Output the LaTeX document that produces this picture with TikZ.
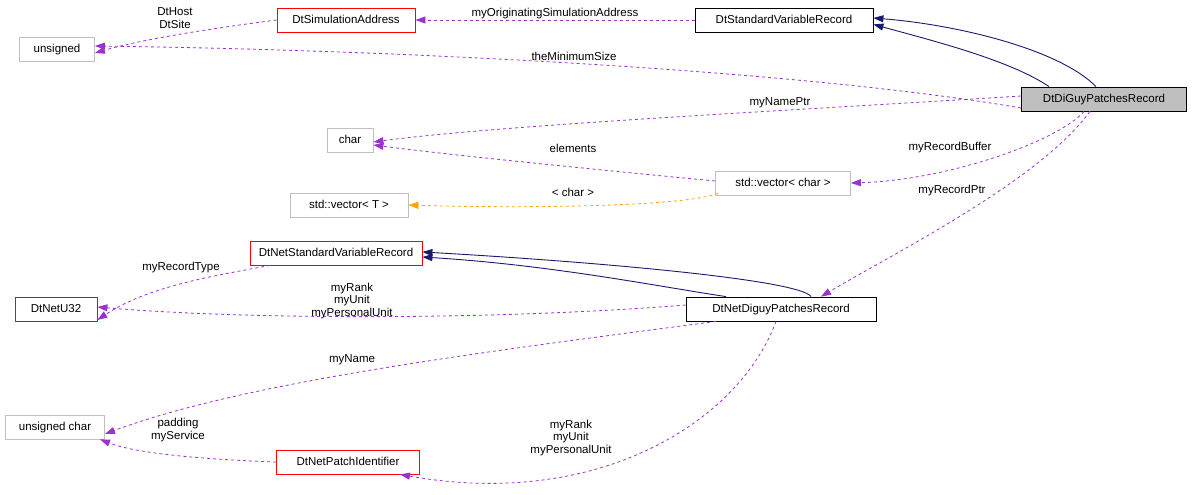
\documentclass[tikz,border=0pt]{standalone}
\usepackage{fontspec}
\setmainfont{Liberation Sans}
\usetikzlibrary{arrows.meta}
\definecolor{navy}{HTML}{191970}
\definecolor{purp}{HTML}{9A32CD}
\definecolor{orng}{HTML}{FFA500}
\definecolor{gb}{HTML}{BFBFBF}
\begin{document}
\begin{tikzpicture}[x=1pt,y=-1pt,
  every node/.style={font=\fontsize{11.5}{13}\selectfont},
  box/.style={draw,rectangle,minimum height=24pt,inner sep=2pt,line width=0.8pt,text depth=2pt},
  gbox/.style={box,draw=gb},
  rbox/.style={box,draw=red},
  kbox/.style={box,draw=black},
  inh/.style={draw=navy,line width=0.9pt,-{Triangle[length=10pt,width=7pt]}},
  use/.style={draw=purp,dashed,line width=0.8pt,-{Triangle[length=10pt,width=7pt]}},
  tpl/.style={draw=orng,dashed,line width=0.8pt,-{Triangle[length=10pt,width=7pt]}},
  lab/.style={align=center,inner sep=0pt,font=\fontsize{11.5}{12.5}\selectfont}]
\useasboundingbox (0,0) rectangle (1192,495);
\node[kbox,fill=gb,minimum width=165pt] (dgr) at (1104,99) {DtDiGuyPatchesRecord};
\node[kbox,minimum width=178pt] (svr) at (784,20) {DtStandardVariableRecord};
\node[rbox,minimum width=138pt] (sa) at (346,20) {DtSimulationAddress};
\node[gbox,minimum width=75pt] (uns) at (57,49) {unsigned};
\node[gbox,minimum width=46pt] (ch) at (350,140) {char};
\node[gbox,minimum width=135pt] (vc) at (783,183) {std::vector< char >};
\node[gbox,minimum width=118pt] (vt) at (349,205) {std::vector< T >};
\node[rbox,minimum width=172pt] (nsvr) at (336,253) {DtNetStandardVariableRecord};
\node[rbox,minimum width=82pt] (u32) at (56,309) {DtNetU32};
\node[kbox,minimum width=190pt] (ndr) at (781,309) {DtNetDiguyPatchesRecord};
\node[gbox,minimum width=99pt] (uc) at (55,427) {unsigned char};
\node[rbox,minimum width=143pt] (npi) at (348,462) {DtNetPatchIdentifier};

\path[inh] (dgr.north) ++(-8,0) .. controls (1060,50) and (960,25) .. ([yshift=2pt]svr.east);
\path[inh] (dgr.north) ++(-55,0) .. controls (1010,60) and (930,40) .. ([yshift=8pt]svr.south east);
\path[use] (svr.west) -- node[lab,above=1pt]{myOriginatingSimulationAddress} (sa.east);
\path[use] (sa.west) .. controls (200,30) and (140,40) .. ([yshift=-4pt]uns.east);
\node[lab] (l1) at (175,18) {DtHost\\DtSite};
\path[use] ([yshift=-9pt]dgr.west) .. controls (800,70) and (400,50) .. ([yshift=3pt]uns.east);
\node[lab] (l2) at (574,56) {theMinimumSize};
\path[use] ([yshift=3pt]dgr.west) .. controls (800,110) and (500,125) .. ([yshift=-2pt]ch.east);
\node[lab] (l3) at (780,103) {myNamePtr};
\path[use] ([yshift=2pt]vc.west) .. controls (600,170) and (450,155) .. ([yshift=-5pt]ch.east);
\node[lab] (l4) at (573,148) {elements};
\path[use] ([xshift=-20pt]dgr.south) .. controls (1060,140) and (950,180) .. (vc.east);
\node[lab] (l5) at (950,148) {myRecordBuffer};
\path[tpl] ([xshift=-65pt]vc.south) ++(0,-2) .. controls (680,208) and (500,208) .. (vt.east);
\node[lab] (l6) at (573,192) {< char >};
\path[use] ([xshift=-14pt]dgr.south) .. controls (1040,180) and (900,250) .. ([xshift=40pt]ndr.north);
\node[lab] (l7) at (952,191) {myRecordPtr};
\path[inh] ([xshift=30pt]ndr.north) .. controls (800,280) and (600,262) .. ([yshift=1pt]nsvr.east);
\path[inh] ([xshift=-45pt]ndr.north) ++(-10,0) .. controls (650,285) and (550,265) .. ([yshift=-4pt]nsvr.east);
\path[use] ([xshift=-66pt]nsvr.south) .. controls (220,275) and (150,285) .. ([yshift=-11pt]u32.east);
\node[lab] (l8) at (181,268) {myRecordType};
\path[use] ([yshift=4pt]ndr.west) .. controls (500,320) and (250,320) .. ([yshift=2pt]u32.east);
\node[lab] (l9) at (352,301) {myRank\\myUnit\\myPersonalUnit};
\path[use] ([xshift=-65pt]ndr.south) .. controls (500,350) and (250,380) .. ([yshift=-7pt]uc.east);
\node[lab] (l10) at (352,360) {myName};
\path[use] (npi.west) .. controls (220,460) and (140,455) .. ([xshift=45pt]uc.south);
\node[lab] (l11) at (178,430) {padding\\myService};
\path[use] ([xshift=-5pt]ndr.south) .. controls (740,420) and (600,510) .. ([xshift=52pt]npi.south);
\node[lab] (l12) at (571,438) {myRank\\myUnit\\myPersonalUnit};
\end{tikzpicture}
\end{document}
